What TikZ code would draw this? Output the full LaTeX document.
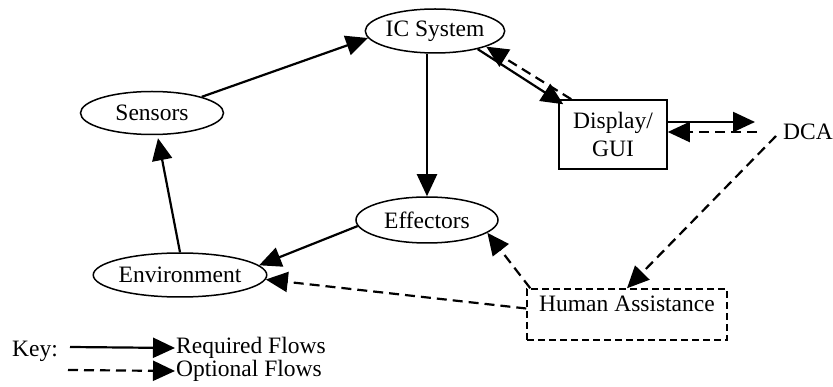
\documentclass[tikz,border=0pt]{standalone}
\usepackage{fontspec}
\setmainfont{Liberation Serif}
\usetikzlibrary{shapes.geometric,arrows.meta}
\begin{document}
\begin{tikzpicture}[x=1pt,y=-1pt,
  font=\fontsize{23.5}{28}\selectfont,
  ell/.style={draw, ellipse, line width=1.5pt, inner sep=0pt},
  req/.style={line width=2.2pt, -{Triangle[length=22pt,width=20pt]}},
  opt/.style={req, dash pattern=on 10pt off 6pt}]
\useasboundingbox (0,0) rectangle (833,387);
\fill[white] (0,0) rectangle (833,387);
% nodes
\node[ell, minimum width=130pt, minimum height=44pt] (ic) at (435,31) {IC System};
\node[ell, minimum width=143pt, minimum height=43pt] (sens) at (152,113) {Sensors};
\node[ell, minimum width=142pt, minimum height=46pt] (eff) at (427,220) {Effectors};
\node[ell, minimum width=170pt, minimum height=44pt] (env) at (180,275) {Environment};
\node[draw, line width=1.5pt, minimum width=108pt, minimum height=69pt, align=center, inner sep=0pt] (disp) at (613,134.5) {Display/\\GUI};
\node[inner sep=1pt] (dca) at (808,132) {DCA};
\node[draw, dash pattern=on 7pt off 4pt, line width=1.5pt, minimum width=200pt, text height=21pt, text depth=26pt, inner sep=2pt] (ha) at (627,314.5) {Human Assistance};
% key
\node[anchor=west, inner sep=0pt] (key) at (12,351) {Key:};
\node[anchor=west, inner sep=1pt] (kr) at (175,348) {Required Flows};
\node[anchor=west, inner sep=1pt] (ko) at (175,371) {Optional Flows};
\coordinate (ks) at (70,347);
\coordinate (kd) at (68,370);
\draw[req] (ks) -- (kr.west);
\draw[opt] (kd) -- (ko.west);
% connectors
\coordinate (dA) at (755,122);
\coordinate (dB) at (757,132);
\draw[req] (sens.18) -- (ic.186);
\draw[req] (ic.-23) -- ([xshift=5pt,yshift=-5pt]disp.north west);
\draw[opt] ([xshift=13pt]disp.north west) -- (ic.-17);
\draw[req] (eff.north |- ic.south) -- (eff.north);
\draw[req] ([yshift=12.5pt]disp.east) -- (dA);
\draw[opt] (dB) -- ([yshift=2.5pt]disp.east);
\draw[opt] ([xshift=-6pt,yshift=-4pt]dca.west) -- (ha.north);
\draw[opt] ([xshift=4pt]ha.north west) -- (eff.-12);
\draw[opt] ([yshift=6pt]ha.west) -- (env.-3);
\draw[req] (eff.185) -- (env.7);
\draw[req] (env.north) -- ([xshift=6pt,yshift=-3pt]sens.south);
\end{tikzpicture}
\end{document}
